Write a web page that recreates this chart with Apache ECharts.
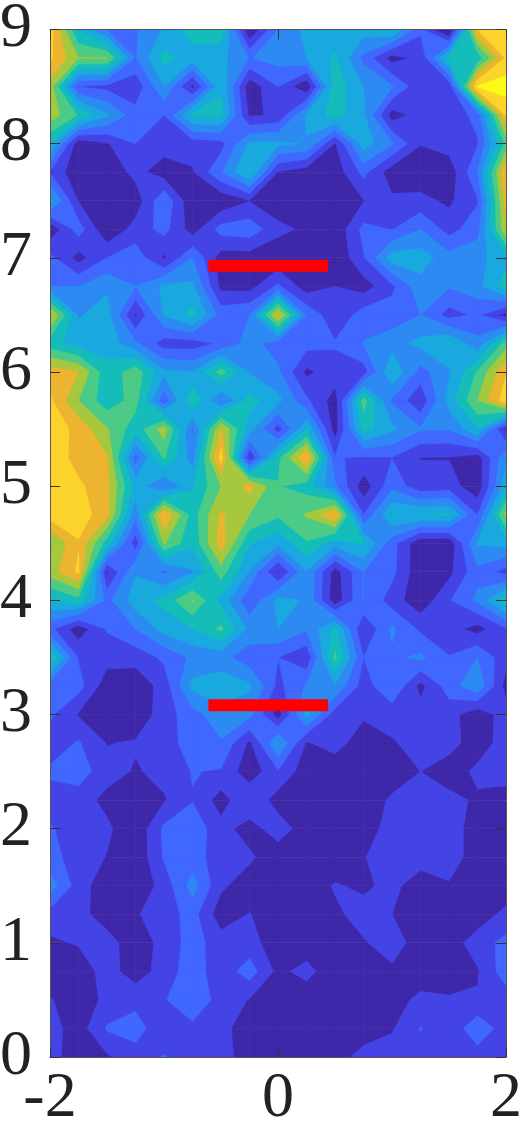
<!DOCTYPE html>
<html><head><meta charset="utf-8">
<style>html,body{margin:0;padding:0;background:#fff}#c{width:522px;height:1125px}</style>
<script src="https://cdn.jsdelivr.net/npm/echarts@6/dist/echarts.min.js"></script>
</head><body><div id="c"></div>
<script>
const xValues=[-2,-1.75,-1.5,-1.25,-1,-0.75,-0.5,-0.25,0,0.25,0.5,0.75,1,1.25,1.5,1.75,2];
const yValues=[0,0.25,0.5,0.75,1,1.25,1.5,1.75,2,2.25,2.5,2.75,3,3.25,3.5,3.75,4,4.25,4.5,4.75,5,5.25,5.5,5.75,6,6.25,6.5,6.75,7,7.25,7.5,7.75,8,8.25,8.5,8.75,9];
const r0=[1.4,0.4,0.85,1.7,2.05,1.5,1.4,0.5,0.3,0.2,0.5,1.4,1.5,1.5,1.5,1.5,1.5];
const r1=[1.4,0.5,2.1,2.3,1.5,1.7,1.4,0.3,0.2,0.2,0.3,0.4,0.9,2.05,1.3,2.7,1.5];
const r2=[1.1,0.3,1.3,1.8,1.9,2.9,1.5,0.95,0.2,0.2,0.2,0.3,0.5,1.3,1.1,1.1,1.4];
const r3=[0.3,0.3,1.5,0.4,1.5,2.5,1.4,2.5,0.7,1.4,0.2,0.2,0.8,0.3,0.5,0.9,2.6];
const r4=[0.8,1.1,1.5,0.3,1.4,2.4,1.5,1.4,0.4,0.3,0.2,0.9,1.5,0.5,0.5,1.5,2.3];
const r5=[1.6,1.4,0.4,0.9,1.5,2.4,0.4,1.05,0.2,0.2,0.8,1.4,1.0,0.2,0.3,0.4,1.3];
const r6=[3.5,1.5,0.3,0.2,1.4,3.4,1.2,0.4,0.2,0.3,1.1,0.8,1.3,0.4,0.9,0.3,0.3];
const r7=[2.3,1.6,0.95,0.2,2.1,2.5,1.4,1.2,0.3,0.98,0.2,0.95,1.5,1.5,1.5,0.5,0.2];
const r8=[2.1,1.5,1.2,0.2,2.2,2.6,1.4,0.5,1.6,0.4,0.3,0.5,1.4,1.5,1.5,0.5,0.2];
const r9=[1.5,1.5,0.7,0.1,0.9,1.95,0.5,2.0,0.5,0.3,0.2,0.2,1.2,1.4,1.4,0.8,0.5];
const r10=[2.2,2.5,1.4,0.9,1.3,2.05,1.9,0.3,1.9,0.4,0.2,0.1,0.3,1.0,0.3,1.3,1.5];
const r11=[1.4,2.1,0.95,1.1,1.4,2.6,2.9,0.8,4.1,0.9,1.5,0.3,0.9,1.4,1.5,0.3,1.6];
const r12=[2.2,0.9,0.1,0.3,1.5,2.6,3.6,3.3,0.5,4.3,1.5,1.2,1.4,1.4,1.4,0.3,1.5];
const r13=[2.4,2.4,0.4,0.3,1.4,4.3,4.6,4.2,1.7,3.1,3.9,1.5,2.9,0.7,2.5,3.8,0.6];
const r14=[6.0,1.9,1.4,1.4,2.2,3.2,3.4,2.4,2.0,1.2,6.2,2.0,2.8,3.2,2.05,3.0,1.3];
const r15=[2.3,0.4,2.1,3.0,4.4,5.0,6.2,3.7,4.0,3.1,5.2,0.97,3.2,1.8,1.4,0.6,1.9];
const r16=[4.9,5.6,2.7,4.5,5.3,7.1,4.7,2.2,4.3,3.9,0.3,3.0,1.5,0.3,1.9,3.2,5.6];
const r17=[7.5,9.2,0.8,3.9,2.8,3.9,6.5,3.9,0.85,3.9,0.5,3.0,2.3,0.2,0.7,2.7,1.6];
const r18=[6.8,8.9,5.5,1.4,7.1,5.2,8.5,5.1,4.2,5.9,4.5,5.1,2.4,0.2,0.2,4.1,4.4];
const r19=[9.5,9.6,8.3,3.3,9.05,5.5,8.15,7.0,6.2,7.1,8.9,2.0,5.01,4.97,5.1,2.0,7.3];
const r20=[9.7,9.2,8.3,4.6,2.9,4.9,7.0,8.4,6.07,5.5,3.2,0.35,2.7,1.3,1.5,0.3,4.6];
const r21=[9.7,8.6,8.1,2.5,6.1,3.5,9.4,1.0,5.7,9.05,2.05,1.9,1.97,0.97,0.95,0.5,3.8];
const r22=[9.6,8.7,7.1,5.4,7.5,2.8,8.05,4.4,1.5,4.9,0.5,5.4,4.2,3.1,3.05,4.95,0.7];
const r23=[9.2,7.0,5.4,6.4,2.3,5.9,2.9,5.4,4.3,2.2,0.5,6.4,2.85,1.2,4.4,7.0,9.6];
const r24=[8.6,8.0,5.3,6.6,4.2,4.0,6.4,3.9,3.2,0.75,1.6,1.5,4.9,2.6,3.85,6.1,8.9];
const r25=[5.4,4.5,4.6,3.2,1.5,1.5,2.2,3.4,2.5,2.4,2.1,3.05,3.6,4.3,5.05,3.3,6.5];
const r26=[8.2,3.9,4.5,0.85,4.1,5.3,2.6,3.0,8.3,2.9,1.2,2.5,2.4,3.0,1.6,2.2,0.6];
const r27=[3.0,3.0,3.8,3.0,4.2,4.2,0.7,0.6,2.2,0.4,1.0,0.5,1.8,3.6,3.1,3.6,5.6];
const r28=[2.3,0.6,2.0,2.6,0.8,3.0,0.5,0.5,0.2,0.1,0.1,1.9,4.5,4.5,3.4,3.7,4.6];
const r29=[0.2,2.5,0.1,1.4,2.35,0.5,2.4,2.6,1.3,0.8,0.2,2.3,1.95,3.0,1.6,2.6,7.8];
const r30=[4.4,0.95,0.2,0.4,2.85,0.1,0.2,0.95,0.3,0.2,0.1,0.95,1.2,1.3,0.8,1.9,8.4];
const r31=[1.9,0.2,0.3,1.3,0.5,0.9,2.9,5.1,0.95,0.4,0.4,2.3,0.4,0.3,0.3,3.0,9.0];
const r32=[5.0,0.3,0.9,2.0,1.44,1.4,1.6,4.2,4.2,3.94,0.9,4.5,3.1,1.05,1.5,1.9,6.3];
const r33=[7.6,5.9,4.15,2.4,2.0,5.2,5.2,0.8,1.2,4.15,5.4,4.2,0.5,1.4,1.4,2.3,9.1];
const r34=[7.6,1.95,1.7,1.27,4.0,0.7,4.9,0.3,2.0,0.1,5.6,4.0,3.1,1.2,1.2,10.1,10.5];
const r35=[9.2,7.05,7.02,2.9,5.3,4.5,4.3,2.95,3.4,4.0,5.15,2.7,0.6,1.24,5.4,5.3,9.2];
const r36=[9.5,4.9,2.9,2.9,4.1,5.5,5.6,0.0,3.0,4.3,4.4,4.5,5.05,2.2,-0.4,9.0,9.3];
const levelColors=['#3e27a8','#4444e6','#4068ff','#2d8af2','#1aa9df','#14bdb9','#4bcb85','#a5c83e','#edb430','#fcd32b','#f9fb15'];
const bar1X=[-0.61,0.44], bar1Y=[6.93,6.93];
const bar2X=[-0.61,0.44], bar2Y=[3.08,3.08];
const rows=[r0,r1,r2,r3,r4,r5,r6,r7,r8,r9,r10,r11,r12,r13,r14,r15,r16,r17,r18,r19,r20,r21,r22,r23,r24,r25,r26,r27,r28,r29,r30,r31,r32,r33,r34,r35,r36];

function edgePt(p,n,lev){const t=(lev-p[2])/(n[2]-p[2]);return [p[0]+t*(n[0]-p[0]),p[1]+t*(n[1]-p[1])];}
function clip(q,lev){
  if(lev===0)return [q];
  const ins=q.map(p=>p[2]>=lev);
  const mean=(q[0][2]+q[1][2]+q[2][2]+q[3][2])/4;
  if(ins[0]===ins[2]&&ins[1]===ins[3]&&ins[0]!==ins[1]&&mean<lev){
    const s=ins[0]?0:1, res=[];
    [s,s+2].forEach(a=>{
      const prev=q[(a+3)%4],cur=q[a%4],next=q[(a+1)%4];
      res.push([edgePt(prev,cur,lev),cur,edgePt(cur,next,lev)]);
    });
    return res;
  }
  const out=[];
  for(let a=0;a<4;a++){
    const p=q[a],n=q[(a+1)%4],pi=ins[a],ni=ins[(a+1)%4];
    if(pi)out.push(p);
    if(pi!==ni)out.push(edgePt(p,n,lev));
  }
  return out.length>=3?[out]:[];
}
function renderLevel(params,api){
  const k=api.value(0),col=levelColors[k],children=[];
  for(let j=0;j<yValues.length-1;j++)for(let i=0;i<xValues.length-1;i++){
    const q=[[xValues[i],yValues[j],rows[j][i]],[xValues[i+1],yValues[j],rows[j][i+1]],
             [xValues[i+1],yValues[j+1],rows[j+1][i+1]],[xValues[i],yValues[j+1],rows[j+1][i]]];
    clip(q,k).forEach(poly=>children.push({type:'polygon',
      shape:{points:poly.map(p=>api.coord([p[0],p[1]]))},
      style:{fill:col,stroke:col,lineWidth:0.6}}));
  }
  return {type:'group',children};
}
const font={fontFamily:'"Liberation Serif","DejaVu Serif",serif',fontSize:64,color:'#222'};
const lineCol='#555';
const chart=echarts.init(document.getElementById('c'),null,{renderer:'canvas'});
chart.setOption({
  animation:false,
  grid:{left:50,right:16,top:29.5,bottom:68,outerBoundsMode:'none'},
  xAxis:[
   {type:'value',min:-2,max:2,interval:2,position:'bottom',z:10,splitLine:{show:false},
    axisLine:{show:true,onZero:false,lineStyle:{color:lineCol,width:1}},
    axisTick:{show:true,inside:true,length:10,lineStyle:{color:'#333'}},
    axisLabel:{...font,margin:10,showMinLabel:true,showMaxLabel:true,hideOverlap:false}},
   {type:'value',min:-2,max:2,interval:2,position:'top',z:10,splitLine:{show:false},
    axisLine:{show:true,onZero:false,lineStyle:{color:lineCol,width:1}},
    axisTick:{show:true,inside:true,length:10,lineStyle:{color:'#333'}},axisLabel:{show:false}}
  ],
  yAxis:[
   {type:'value',min:0,max:9,interval:1,position:'left',z:10,splitLine:{show:false},
    axisLine:{show:true,onZero:false,lineStyle:{color:lineCol,width:1}},
    axisTick:{show:true,inside:true,length:10,lineStyle:{color:'#333'}},
    axisLabel:{...font,margin:18,showMinLabel:true,showMaxLabel:true,hideOverlap:false}},
   {type:'value',min:0,max:9,interval:1,position:'right',z:10,splitLine:{show:false},
    axisLine:{show:true,onZero:false,lineStyle:{color:lineCol,width:1}},
    axisTick:{show:true,inside:true,length:10,lineStyle:{color:'#333'}},axisLabel:{show:false}}
  ],
  series:[
   {type:'custom',coordinateSystem:'cartesian2d',data:levelColors.map((c,k)=>[k]),encode:{x:[],y:[]},renderItem:renderLevel,clip:true,z:2,silent:true},
   {type:'line',data:bar1X.map((x,i)=>[x,bar1Y[i]]),showSymbol:false,z:5,silent:true,lineStyle:{color:'#ff0000',width:12,cap:'butt'}},
   {type:'line',data:bar2X.map((x,i)=>[x,bar2Y[i]]),showSymbol:false,z:5,silent:true,lineStyle:{color:'#ff0000',width:12,cap:'butt'}}
  ]
});
</script></body></html>
